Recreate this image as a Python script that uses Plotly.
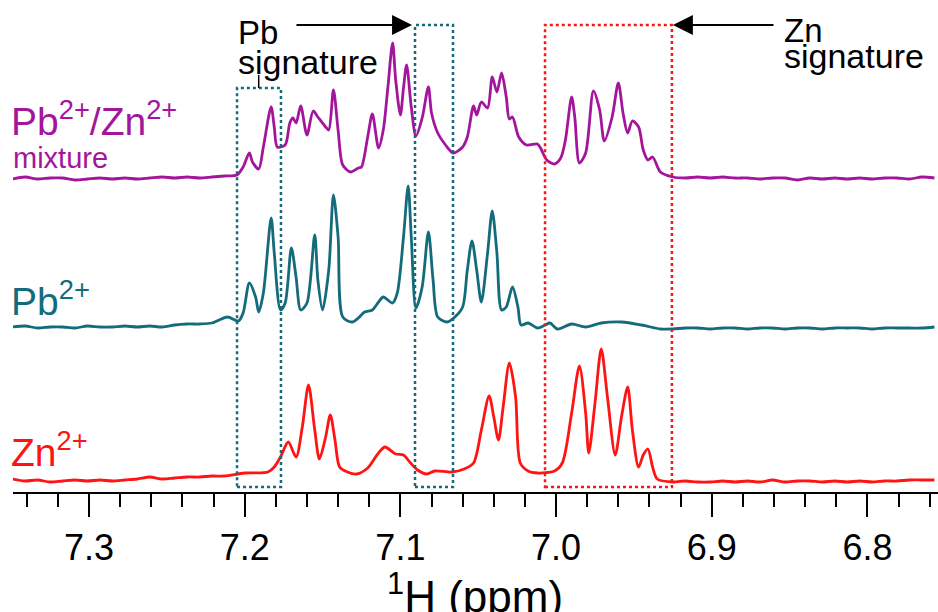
import plotly.graph_objects as go

# ---------------- data (ppm, intensity above each trace's baseline) ----------------
# baseline grids (flat regions left and right of the signals)
left_ppm = [7.349, 7.341, 7.333, 7.325, 7.317, 7.309, 7.301, 7.293, 7.285, 7.277, 7.269,
            7.261, 7.253, 7.245, 7.237, 7.229, 7.221]
right_ppm = [6.925, 6.917, 6.909, 6.901, 6.893, 6.885, 6.877, 6.869, 6.861, 6.853, 6.845,
             6.837, 6.829, 6.821, 6.813, 6.805, 6.797, 6.789, 6.781, 6.773, 6.765, 6.757]

# Zn2+ spectrum
zn_left = [2, 0, 1, -1, 0, 1, 0, 1, 0, 1, 2, 4, 2, 3, 4, 4, 5]
zn_sig_ppm = [7.213, 7.200, 7.185, 7.181, 7.177, 7.172, 7.167, 7.163, 7.159, 7.155, 7.152, 7.148,
              7.145, 7.142, 7.139, 7.134, 7.128, 7.121, 7.115, 7.110, 7.103, 7.098, 7.094, 7.089,
              7.083, 7.078, 7.067, 7.059, 7.053, 7.048, 7.043, 7.040, 7.037, 7.034, 7.030, 7.026,
              7.023, 7.018, 7.012, 7.001, 6.996, 6.990, 6.985, 6.981, 6.979, 6.975, 6.971, 6.967,
              6.962, 6.958, 6.954, 6.951, 6.947, 6.944, 6.941, 6.938, 6.935]
zn_sig = [5, 8, 9, 14, 24, 39, 24, 54, 96, 51, 22, 44,
          66, 41, 14, 9, 7, 13, 26, 34, 27, 26, 19, 11,
          7, 10, 9, 12, 18, 51, 85, 64, 41, 74, 118, 84,
          18, 10, 8, 10, 18, 68, 115, 68, 28, 78, 132, 84,
          26, 64, 94, 51, 14, 26, 32, 14, 2]
zn_right = [-1, 0, -1, -1, 0, -1, 0, -1, 1, -1, 0, 0, -1, 0, -1, 0, -1, 0, 0, 1, 1, 1]

# Pb2+ spectrum
pb_left = [0, 1, -1, 0, 0, -1, 1, 0, 0, 1, 0, 1, 0, 2, 3, 3, 4]
pb_sig_ppm = [7.211, 7.204, 7.201, 7.197, 7.193, 7.191, 7.188, 7.183, 7.181, 7.177, 7.174, 7.170,
              7.167, 7.164, 7.160, 7.155, 7.153, 7.150, 7.146, 7.143, 7.140, 7.137, 7.131, 7.127,
              7.123, 7.118, 7.114, 7.111, 7.105, 7.102, 7.098, 7.095, 7.093, 7.090, 7.086, 7.082,
              7.079, 7.076, 7.070, 7.065, 7.060, 7.057, 7.054, 7.051, 7.048, 7.044, 7.041, 7.038,
              7.035, 7.032, 7.028, 7.0245, 7.0225, 7.018, 7.012, 7.007, 7.004, 6.999, 6.990, 6.981,
              6.971, 6.958, 6.945, 6.933]
pb_sig = [10, 6, 14, 44, 30, 15, 34, 109, 74, 17, 24, 79,
          50, 17, 24, 92, 47, 17, 57, 132, 90, 10, 5, 9,
          15, 17, 25, 30, 24, 34, 90, 141, 90, 19, 40, 95,
          47, 10, 5, 10, 20, 57, 86, 57, 25, 74, 116, 74,
          17, 20, 40, 20, 2, 4, -1, 2, 4, -2, 3, 0,
          4, 5, 2, -2]
pb_right = [-2, -1, -1, -2, -1, -1, -2, -1, -1, -2, -1, -1, -2, -1, -1, -1, -2, -1, -1, -1, -1, 0]

# Pb2+/Zn2+ mixture spectrum
mix_left = [0, 2, 0, 1, 1, -1, 0, 1, 0, 1, 0, 1, 2, 1, 2, 1, 2]
mix_sig_ppm = [7.213, 7.205, 7.201, 7.197, 7.195, 7.191, 7.188, 7.183, 7.181, 7.179, 7.174, 7.171,
               7.169, 7.167, 7.164, 7.160, 7.156, 7.153, 7.148, 7.146, 7.143, 7.140, 7.137, 7.132,
               7.127, 7.125, 7.121, 7.118, 7.114, 7.111, 7.108, 7.105, 7.103, 7.100, 7.098, 7.096,
               7.093, 7.090, 7.086, 7.082, 7.080, 7.076, 7.071, 7.066, 7.060, 7.057, 7.053, 7.051,
               7.048, 7.044, 7.041, 7.038, 7.035, 7.032, 7.030, 7.028, 7.024, 7.019, 7.012, 7.010,
               7.006, 7.001, 6.997, 6.994, 6.990, 6.988, 6.985, 6.981, 6.976, 6.972, 6.969, 6.964,
               6.960, 6.957, 6.954, 6.951, 6.947, 6.944, 6.941, 6.938, 6.933]
mix_sig = [3, 4, 12, 26, 17, 10, 32, 72, 52, 32, 34, 56,
           61, 56, 73, 44, 68, 62, 52, 49, 89, 49, 14, 7,
           11, 12, 42, 65, 31, 49, 92, 136, 99, 64, 91, 114,
           72, 43, 61, 92, 66, 46, 34, 26, 32, 42, 73, 64,
           77, 71, 102, 87, 106, 82, 60, 62, 42, 34, 35, 31,
           19, 15, 21, 39, 82, 62, 16, 26, 88, 69, 38, 62,
           96, 66, 46, 58, 52, 29, 19, 22, 7]
mix_right = [2, 1, 2, 1, 2, 1, 1, 0, 1, 1, -1, 1, 0, 1, 0, 1, 0, 1, 1, 0, 2, 1]

trace_names = ["Zn2+", "Pb2+", "Pb2+/Zn2+ mixture"]
x_ticks = [7.3, 7.2, 7.1, 7.0, 6.9, 6.8]
x_tick_text = ["7.3", "7.2", "7.1", "7.0", "6.9", "6.8"]

# signature windows (ppm)
pb_win1 = (7.2049, 7.1767)
pb_win2 = (7.0906, 7.0662)
zn_win = (7.0071, 6.9256)

# ---------------- styling ----------------
RED = "#ff1414"
TEAL = "#146b7c"
MAG = "#a3169c"
FONT = "Liberation Sans, Arial, sans-serif"

offsets = {"zn": 11, "pb": 165, "mix": 313}

spectra = [
    (left_ppm + zn_sig_ppm + right_ppm, zn_left + zn_sig + zn_right, offsets["zn"], RED, trace_names[0]),
    (left_ppm + pb_sig_ppm + right_ppm, pb_left + pb_sig + pb_right, offsets["pb"], TEAL, trace_names[1]),
    (left_ppm + mix_sig_ppm + right_ppm, mix_left + mix_sig + mix_right, offsets["mix"], MAG, trace_names[2]),
]

fig = go.Figure()
for ppm, inten, off, col, name in spectra:
    fig.add_trace(go.Scatter(
        x=ppm, y=[v + off for v in inten], mode="lines", name=name,
        line=dict(color=col, width=2.8, shape="spline", smoothing=0.8),
        showlegend=False, hoverinfo="skip"))

# dotted windows
def box(x0, x1, y0, y1, col):
    fig.add_shape(type="rect", xref="x", yref="y", x0=x0, x1=x1, y0=y0, y1=y1,
                  line=dict(color=col, width=2.5, dash="dot"), layer="above")

box(pb_win1[0], pb_win1[1], 5, 404, TEAL)
box(pb_win2[0], pb_win2[1], 5, 467, TEAL)
box(zn_win[0], zn_win[1], 5, 467, RED)

# connector tick under "signature"
fig.add_shape(type="line", xref="x", yref="y", x0=7.191, x1=7.191, y0=404, y1=417,
              line=dict(color="black", width=1.5))

# arrows
fig.add_annotation(x=7.0925, y=467, ax=7.1677, ay=467, xref="x", yref="y", axref="x", ayref="y",
                   text="", showarrow=True, arrowhead=2, arrowsize=2, arrowwidth=2, arrowcolor="black")
fig.add_annotation(x=6.925, y=467, ax=6.8594, ay=467, xref="x", yref="y", axref="x", ayref="y",
                   text="", showarrow=True, arrowhead=2, arrowsize=2, arrowwidth=2, arrowcolor="black")

def label(text, xpx, ypx, size, col):
    fig.add_annotation(text=text, xref="paper", yref="paper",
                       x=(xpx - 13) / 925, y=(492 - ypx) / 492,
                       xanchor="left", yanchor="middle", showarrow=False,
                       font=dict(family=FONT, size=size, color=col))

label("Pb", 236, 33, 33, "black")
label("signature", 236, 62, 34, "black")
label("Zn", 782, 31, 33, "black")
label("signature", 782, 56, 34, "black")

label("Pb<sup>2+</sup>/Zn<sup>2+</sup>", 9, 118, 39, MAG)
label("mixture", 11, 158, 29, MAG)
label("Pb<sup>2+</sup>", 9, 298, 39, TEAL)
label("Zn<sup>2+</sup>", 9, 449, 39, RED)

# x-axis title
fig.add_annotation(text="<sup>1</sup>H (ppm)", xref="paper", yref="paper",
                   x=(475 - 13) / 925, y=(492 - 593) / 492, xanchor="center", yanchor="middle",
                   showarrow=False, font=dict(family=FONT, size=44, color="black"))

fig.update_layout(
    width=938, height=612,
    margin=dict(l=13, r=0, t=0, b=120),
    paper_bgcolor="white", plot_bgcolor="white",
    font=dict(family=FONT, color="black"),
    xaxis=dict(range=[7.3488, 6.7547], tickvals=x_ticks, ticktext=x_tick_text,
               ticks="outside", ticklen=23, tickwidth=2, tickcolor="black",
               showline=True, linewidth=2, linecolor="black", showgrid=False, zeroline=False,
               tickfont=dict(family=FONT, size=36, color="black"),
               minor=dict(dtick=0.02, tick0=7.3, ticks="outside", ticklen=13, tickwidth=2,
                          tickcolor="black", showgrid=False)),
    yaxis=dict(range=[0, 492], visible=False, showgrid=False, zeroline=False),
)

fig.write_html("out.html", config={"displayModeBar": False},
               post_script="document.body.style.margin='0';document.body.style.overflow='hidden';")
